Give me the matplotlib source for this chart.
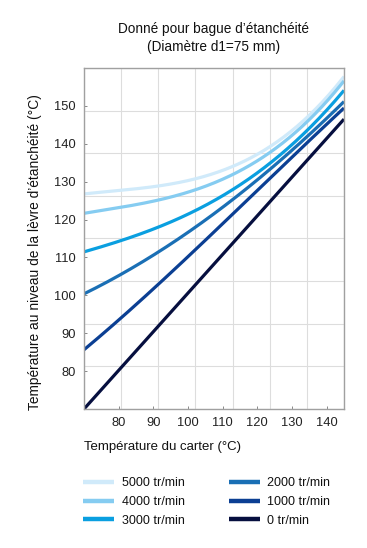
import matplotlib

matplotlib.use("Agg")
import matplotlib.pyplot as plt
import numpy as np

plt.rcParams["font.family"] = ["Liberation Sans", "DejaVu Sans"]

# housing temperature (°C) where values were read
carter = [70, 80, 90, 100, 110, 120, 130, 140, 145]

# seal lip temperature (°C) per speed
speeds = ["5000 tr/min", "4000 tr/min", "3000 tr/min",
          "2000 tr/min", "1000 tr/min", "0 tr/min"]
t_5000 = [126.7, 127.7, 128.8, 130.4, 132.7, 137.0, 143.8, 152.5, 157.5]
t_4000 = [121.5, 123.3, 125.0, 127.3, 130.3, 135.2, 142.6, 151.6, 156.2]
t_3000 = [111.3, 114.4, 117.8, 121.5, 125.8, 131.8, 140.5, 149.3, 153.6]
t_2000 = [100.3, 105.3, 110.8, 116.5, 123.0, 130.5, 138.5, 146.8, 151.0]
t_1000 = [85.6, 93.5, 101.8, 110.2, 118.8, 127.6, 136.6, 145.3, 149.3]
t_0 = [70.0, 80.2, 90.4, 100.6, 110.8, 121.0, 131.2, 141.4, 146.5]

x_ticks = [80, 90, 100, 110, 120, 130, 140]
y_ticks = [80, 90, 100, 110, 120, 130, 140, 150]

COLORS = ["#d0eafa", "#85ccf1", "#0a9fe0", "#1a6fb5", "#0b3f93", "#060f3f"]

fig = plt.figure(figsize=(3.67, 5.48), dpi=100)
ax = fig.add_axes([84 / 367, 1 - 409 / 548, 260 / 367, 341 / 548])

xs = np.linspace(70, 145, 200)
series = [t_5000, t_4000, t_3000, t_2000, t_1000, t_0]
for label, ys, color in zip(speeds, series, COLORS):
    # smooth through the read points with a cubic fit
    coef = np.polyfit(carter, ys, 3)
    ax.plot(xs, np.polyval(coef, xs), color=color, lw=2.3, label=label,
            solid_capstyle="butt")

ax.set_xlim(70, 145)
ax.set_ylim(70, 160)
ax.set_xticks(x_ticks)
ax.set_yticks(y_ticks)
ax.set_xticks(np.linspace(70, 145, 8), minor=True)
ax.set_yticks(np.linspace(70, 160, 9), minor=True)
ax.grid(which="minor", color="#dddddd", lw=0.8)
ax.tick_params(which="major", direction="in", length=2.5, width=0.7,
               color="#888888", labelsize=9.3, labelcolor="#222222", pad=6)
ax.tick_params(which="minor", length=0)
for s in ax.spines.values():
    s.set_color("#a0a0a0")
    s.set_linewidth(1.0)

fig.text(214 / 367, 1 - 38 / 548,
         "Donné pour bague d’étanchéité\n(Diamètre d1=75 mm)",
         ha="center", va="center", fontsize=9.8, linespacing=1.45,
         color="#111111")
fig.text(84 / 367, 1 - 447 / 548, "Température du carter (°C)",
         ha="left", va="center", fontsize=9.5, color="#111111")
fig.text(35 / 367, 1 - 252 / 548,
         "Température au niveau de la lèvre d’étanchéité (°C)",
         ha="center", va="center", rotation=90, fontsize=9.9, color="#111111")

leg = fig.legend(loc="upper left", bbox_to_anchor=(83 / 367, 1 - 477 / 548),
                 ncol=2, frameon=False, fontsize=9, handlelength=2.5,
                 handletextpad=0.6, columnspacing=3.5, labelspacing=0.55,
                 borderpad=0, borderaxespad=0)
for line in leg.get_lines():
    line.set_linewidth(3.2)
for t in leg.get_texts():
    t.set_color("#111111")

fig.savefig("out.png", dpi=100)
